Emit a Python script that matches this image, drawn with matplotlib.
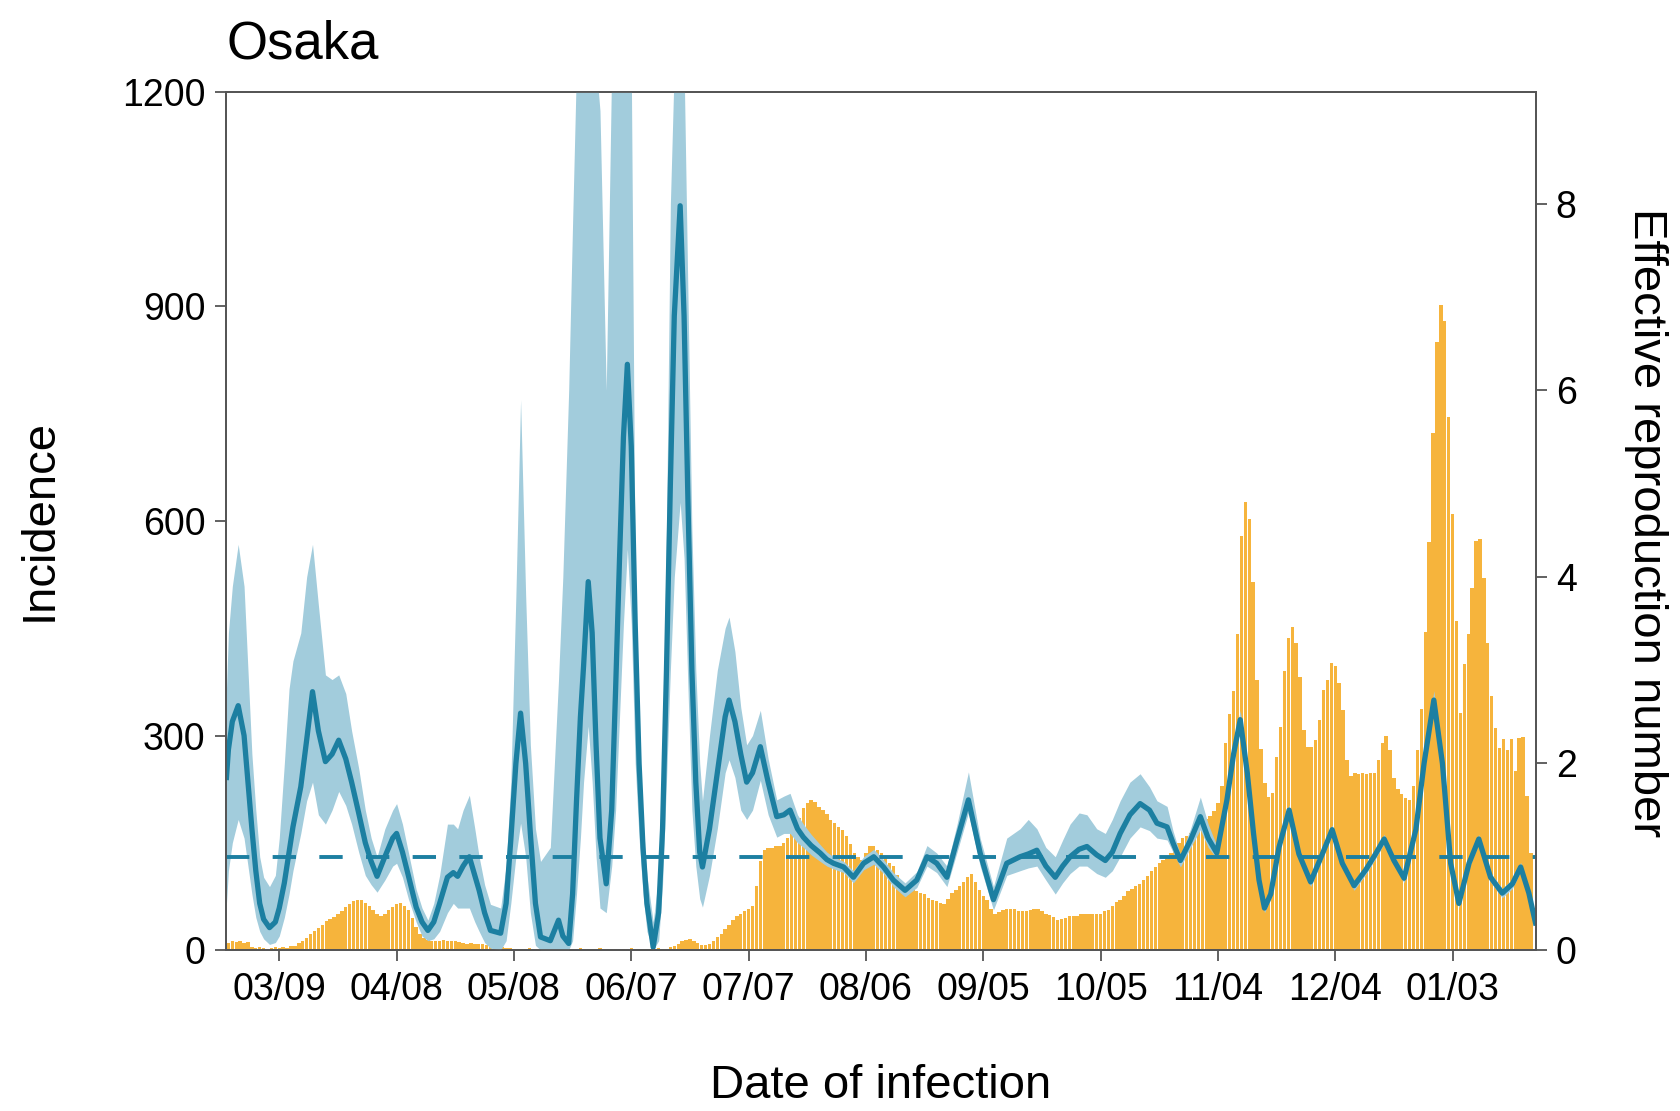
import matplotlib
matplotlib.use("Agg")
import matplotlib.pyplot as plt
import pandas as pd

plt.rcParams["font.family"] = ["Liberation Sans", "DejaVu Sans"]

# 每日发病数 (2020-02-25 起)
incidence = [
    10, 12, 11, 12, 10, 11, 4, 3, 4, 3,
    2, 3, 4, 3, 4, 3, 5, 6, 10, 13,
    17, 22, 27, 31, 35, 40, 43, 46, 50, 54,
    60, 64, 68, 70, 70, 66, 62, 56, 50, 48,
    50, 56, 60, 64, 66, 62, 56, 45, 32, 23,
    17, 14, 13, 13, 12, 14, 12, 13, 12, 11,
    10, 9, 10, 8, 9, 8, 7, 6, 7, 5,
    4, 3, 3, 2, 2, 1, 2, 3, 2, 1,
    2, 2, 1, 3, 2, 1, 2, 2, 1, 2,
    3, 2, 1, 2, 2, 3, 1, 2, 2, 1,
    2, 1, 2, 3, 2, 1, 2, 2, 1, 2,
    3, 2, 2, 4, 6, 8, 12, 14, 15, 13,
    10, 7, 7, 9, 13, 18, 23, 30, 35, 42,
    47, 51, 55, 57, 62, 90, 125, 140, 142, 143,
    145, 145, 150, 157, 163, 172, 185, 198, 205, 210,
    207, 200, 196, 190, 182, 178, 172, 168, 160, 148,
    135, 130, 126, 135, 145, 145, 140, 135, 128, 122,
    117, 105, 92, 88, 85, 84, 82, 80, 78, 73,
    70, 68, 66, 65, 72, 80, 84, 89, 95, 102,
    107, 95, 84, 76, 70, 58, 51, 53, 56, 57,
    58, 57, 55, 54, 54, 56, 58, 58, 54, 51,
    49, 46, 42, 43, 45, 47, 47, 48, 50, 51,
    51, 51, 51, 51, 54, 56, 62, 67, 70, 76,
    82, 86, 90, 93, 98, 104, 110, 116, 121, 126,
    131, 135, 142, 150, 156, 160, 163, 167, 172, 178,
    183, 187, 195, 205, 230, 290, 330, 362, 442, 579,
    627, 603, 515, 378, 281, 233, 214, 220, 270, 312,
    390, 436, 452, 429, 382, 308, 284, 284, 294, 322,
    364, 378, 401, 397, 373, 336, 266, 243, 247, 246,
    247, 246, 247, 248, 266, 290, 300, 280, 240, 225,
    218, 212, 210, 230, 280, 337, 445, 570, 723, 851,
    902, 880, 745, 610, 460, 332, 400, 442, 507, 572,
    575, 520, 430, 355, 310, 282, 295, 280, 295, 250,
    296, 298, 216, 135,
]

# 有效再生数 (距 2020-02-24 的天数)
rt_day = [
    0.5, 1, 2, 3.5, 5, 6, 7, 8, 9, 10, 11.5, 13, 14, 15.3, 16.5, 17.5, 19.5, 21, 22.5, 24,
    25.8, 27.5, 29.2, 31, 32.5, 34.3, 36, 37.5, 39, 41, 43, 44, 45.5, 47, 49, 50.5, 52, 53.5, 55, 57,
    58.5, 59.6, 61, 62.6, 64, 65.1, 66.5, 68, 70.6, 72, 73.2, 74.5, 75.7, 77, 78.2, 79.5, 80.8, 83.3, 85.4, 86.5,
    88, 89, 90, 91, 91.8, 93, 94, 95, 96, 97.6, 99, 100, 101, 102, 103, 104, 105, 106, 107, 108,
    109.6, 111, 112, 113, 114, 115, 116.5, 117.5, 118.5, 119.5, 120.5, 121.5, 122.2, 124, 126, 128, 129, 130.5, 132, 133.5,
    135, 137, 139, 141.2, 143, 144.6, 146.5, 148, 150, 152.3, 154, 155.7, 158.3, 160.8, 163.4, 166, 168.5, 171, 174, 177,
    179.6, 182.1, 184.7, 187.3, 190.2, 193.2, 196.6, 200, 203.4, 205.5, 207.7, 210, 212.4, 214.3, 216.2, 218.5, 220.5, 223, 225.2, 227,
    229, 231.5, 234.1, 236.5, 238.4, 241, 242.5, 244.4, 247, 249.5, 251.5, 253.7, 256.3, 258, 259.7, 261.5, 263.1, 264.5, 265.9, 267.5,
    269.6, 272.2, 274.7, 277.7, 280.7, 283.2, 285.8, 288.8, 291.8, 294.3, 296.5, 299, 301.6, 304.6, 306.7, 309.2, 311.4, 313.5, 315.6, 318.2,
    320.7, 323.7, 326.7, 329.3, 331.4, 333.5, 335.2,
]
rt_med = [
    1.85, 2.15, 2.45, 2.62, 2.3, 1.8, 1.3, 0.85, 0.5, 0.33, 0.24, 0.3, 0.45, 0.72, 1.05, 1.32, 1.75, 2.25, 2.77, 2.35,
    2.02, 2.1, 2.25, 2.05, 1.8, 1.47, 1.15, 0.95, 0.79, 1.0, 1.2, 1.25, 1.05, 0.8, 0.46, 0.3, 0.21, 0.3, 0.5, 0.78,
    0.83, 0.79, 0.9, 1.0, 0.8, 0.64, 0.4, 0.21, 0.18, 0.5, 1.18, 2.0, 2.54, 2.0, 1.25, 0.5, 0.14, 0.1, 0.32, 0.15,
    0.07, 0.6, 1.6, 2.5, 3.04, 3.95, 3.4, 2.2, 1.2, 0.71, 1.5, 2.8, 4.2, 5.5, 6.28, 5.4, 3.5, 2.0, 1.1, 0.5,
    0.03, 0.4, 1.3, 3.0, 5.0, 6.8, 7.98, 6.8, 4.8, 3.0, 1.8, 1.05, 0.89, 1.3, 1.9, 2.5, 2.68, 2.45, 2.1, 1.8,
    1.9, 2.18, 1.8, 1.43, 1.45, 1.5, 1.3, 1.21, 1.12, 1.04, 0.97, 0.93, 0.89, 0.78, 0.93, 1.0, 0.89, 0.75, 0.64, 0.75,
    1.0, 0.93, 0.78, 1.18, 1.61, 1.04, 0.54, 0.93, 1.0, 1.03, 1.07, 0.9, 0.78, 0.9, 1.0, 1.08, 1.11, 1.02, 0.96, 1.05,
    1.25, 1.45, 1.57, 1.5, 1.36, 1.32, 1.15, 0.96, 1.18, 1.43, 1.2, 1.04, 1.61, 2.1, 2.47, 1.9, 1.25, 0.75, 0.45, 0.6,
    1.1, 1.5, 1.03, 0.73, 1.03, 1.29, 0.93, 0.69, 0.86, 1.03, 1.19, 0.96, 0.77, 1.29, 2.0, 2.68, 2.0, 0.93, 0.5, 0.93,
    1.19, 0.78, 0.61, 0.71, 0.89, 0.61, 0.29,
]
rt_lo = [
    0.5, 0.85, 1.15, 1.4, 1.2, 0.9, 0.6, 0.35, 0.2, 0.12, 0.06, 0.08, 0.15, 0.35, 0.6, 0.85, 1.25, 1.6, 1.8, 1.45,
    1.35, 1.5, 1.7, 1.55, 1.35, 1.05, 0.8, 0.7, 0.62, 0.75, 0.9, 0.93, 0.78, 0.55, 0.3, 0.15, 0.1, 0.12, 0.2, 0.4,
    0.5, 0.45, 0.45, 0.45, 0.3, 0.2, 0.08, 0.02, 0.0, 0.1, 0.5, 1.0, 1.36, 1.0, 0.4, 0.05, 0.0, 0.0, 0.0, 0.0,
    0.0, 0.1, 0.6, 1.2, 1.8, 2.4, 1.8, 1.0, 0.45, 0.4, 0.9, 1.5, 2.5, 3.5, 4.3, 3.5, 2.0, 1.2, 0.6, 0.2,
    0.0, 0.1, 0.7, 1.8, 3.0, 4.0, 4.8, 4.2, 2.8, 1.5, 0.9, 0.55, 0.46, 0.8, 1.3, 1.9, 2.04, 1.85, 1.5, 1.4,
    1.5, 1.82, 1.45, 1.21, 1.25, 1.25, 1.15, 1.1, 1.02, 0.95, 0.9, 0.87, 0.83, 0.72, 0.86, 0.92, 0.82, 0.68, 0.57, 0.67,
    0.9, 0.83, 0.68, 1.05, 1.47, 0.9, 0.43, 0.8, 0.85, 0.88, 0.9, 0.75, 0.6, 0.72, 0.82, 0.9, 0.9, 0.82, 0.78, 0.85,
    1.0, 1.2, 1.32, 1.28, 1.2, 1.18, 1.05, 0.89, 1.1, 1.29, 1.1, 0.98, 1.55, 2.02, 2.38, 1.82, 1.18, 0.7, 0.4, 0.55,
    1.05, 1.44, 0.98, 0.68, 0.98, 1.24, 0.88, 0.64, 0.81, 0.98, 1.14, 0.91, 0.72, 1.24, 1.94, 2.6, 1.94, 0.88, 0.45, 0.88,
    1.14, 0.73, 0.56, 0.66, 0.84, 0.55, 0.22,
]
rt_hi = [
    2.8, 3.4, 3.9, 4.35, 3.9, 3.0, 2.1, 1.5, 1.0, 0.78, 0.68, 0.8, 1.2, 2.0, 2.8, 3.1, 3.4, 4.0, 4.35, 3.7,
    2.95, 2.9, 2.95, 2.75, 2.35, 1.95, 1.5, 1.2, 1.0, 1.3, 1.5, 1.57, 1.35, 1.05, 0.65, 0.45, 0.32, 0.5, 0.8, 1.35,
    1.35, 1.3, 1.5, 1.66, 1.3, 1.0, 0.7, 0.49, 0.45, 0.9, 1.8, 3.8, 5.9, 3.8, 2.2, 1.3, 0.95, 1.1, 2.9, 4.0,
    6.0, 7.8, 9.5, 9.5, 9.5, 9.5, 9.5, 9.5, 9.0, 6.0, 9.5, 9.5, 9.5, 9.5, 9.5, 9.5, 4.0, 2.3, 1.4, 0.8,
    0.3, 0.8, 2.0, 4.5, 8.0, 9.5, 9.5, 9.5, 7.0, 4.5, 3.0, 2.0, 1.6, 2.3, 3.0, 3.45, 3.57, 3.2, 2.6, 2.2,
    2.3, 2.57, 2.05, 1.61, 1.65, 1.68, 1.45, 1.35, 1.24, 1.13, 1.05, 1.0, 0.95, 0.85, 1.0, 1.08, 0.97, 0.83, 0.72, 0.84,
    1.12, 1.04, 0.9, 1.35, 1.91, 1.2, 0.68, 1.2, 1.3, 1.4, 1.3, 1.1, 1.0, 1.18, 1.35, 1.47, 1.45, 1.3, 1.25, 1.4,
    1.6, 1.8, 1.89, 1.75, 1.6, 1.54, 1.28, 1.02, 1.3, 1.64, 1.35, 1.12, 1.7, 2.2, 2.57, 1.98, 1.32, 0.82, 0.5, 0.65,
    1.15, 1.56, 1.08, 0.78, 1.08, 1.34, 0.98, 0.74, 0.91, 1.08, 1.24, 1.01, 0.82, 1.34, 2.06, 2.78, 2.06, 0.98, 0.55, 0.98,
    1.24, 0.83, 0.66, 0.76, 0.94, 0.67, 0.36,
]
assert len(rt_day) == len(rt_med) == len(rt_lo) == len(rt_hi)

tick_labels = ["03/09", "04/08", "05/08", "06/07", "07/07", "08/06",
               "09/05", "10/05", "11/04", "12/04", "01/03"]

BAR = "#F6B43C"
BAND = "#A2CCDC"
LINE = "#1C7FA1"
SPINE = "#555555"

origin = pd.Timestamp("2020-02-24")
bar_x = (pd.date_range("2020-02-25", periods=len(incidence), freq="D") - origin).days
tick_x = (pd.date_range("2020-03-09", periods=len(tick_labels), freq="30D") - origin).days

fig = plt.figure(figsize=(16.8, 11.11), dpi=100)
ax = fig.add_axes([0.1348, 0.1449, 0.7792, 0.7723])
ax2 = ax.twinx()

ax.bar(bar_x, incidence, width=0.86, color=BAR, linewidth=0)

ax2.fill_between(rt_day, rt_lo, rt_hi, color=BAND, linewidth=0)
ax2.plot(rt_day, rt_med, color=LINE, lw=3.8, solid_joinstyle="round")
ax2.axhline(1, color=LINE, lw=2.8, dashes=(6, 6))

ax.set_xlim(0.5, 335.2)
ax.set_ylim(0, 1200)
ax2.set_ylim(0, 9.2)
ax.set_yticks([0, 300, 600, 900, 1200])
ax2.set_yticks([0, 2, 4, 6, 8])
ax.set_xticks(tick_x, tick_labels)

ax.tick_params(axis="x", length=8, width=1.3, color=SPINE, labelsize=27, pad=8)
ax.tick_params(axis="y", length=8, width=1.3, color=SPINE, labelsize=27, pad=7)
ax2.tick_params(axis="y", length=8, width=1.3, color=SPINE, labelsize=27, pad=6.5)
for a in (ax, ax2):
    for s in a.spines.values():
        s.set_color(SPINE)
        s.set_linewidth(1.3)

fig.text(0.1348, 0.9469, "Osaka", fontsize=38, ha="left", va="baseline")
fig.text(0.5244, 0.012, "Date of infection", fontsize=34, ha="center", va="baseline")
fig.text(0.0233, 0.532, "Incidence", fontsize=34, rotation=90, ha="center", va="center")
fig.text(0.9798, 0.530, "Effective reproduction number", fontsize=34, rotation=270,
         ha="center", va="center")

fig.savefig("out.png", dpi=100)
